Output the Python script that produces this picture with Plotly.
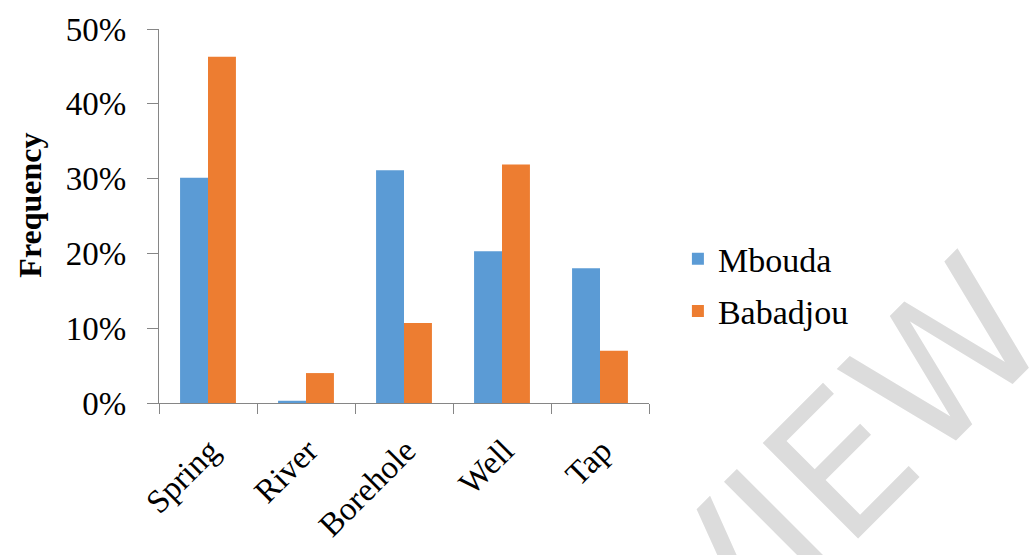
import plotly.graph_objects as go

categories = ["Spring", "River", "Borehole", "Well", "Tap"]
mbouda = [0.301, 0.003, 0.311, 0.203, 0.180]
babadjou = [0.463, 0.040, 0.107, 0.319, 0.070]
series_names = ["Mbouda", "Babadjou"]
y_tick_vals = [0, 0.1, 0.2, 0.3, 0.4, 0.5]
y_tick_text = ["0%", "10%", "20%", "30%", "40%", "50%"]

SERIF = "Liberation Serif, Times New Roman, serif"
AXIS_COLOR = "#868686"

fig = go.Figure()
fig.add_trace(go.Bar(x=categories, y=mbouda, name=series_names[0],
                     marker=dict(color="#5B9BD5", line=dict(width=0)),
                     legendgroup="a"))
fig.add_trace(go.Bar(x=categories, y=babadjou, name=series_names[1],
                     marker=dict(color="#ED7D31", line=dict(width=0)),
                     legendgroup="b"))

fig.update_layout(
    width=1033, height=555,
    margin=dict(l=159, r=384, t=27, b=149),
    paper_bgcolor="white", plot_bgcolor="white",
    barmode="group", bargap=0.43, bargroupgap=0,
    font=dict(family=SERIF, size=32, color="black"),
    showlegend=True,
    legend=dict(x=1.059, xanchor="left", y=0.462, yanchor="top",
                font=dict(family=SERIF, size=34, color="black"),
                traceorder="grouped", tracegroupgap=5,
                bgcolor="rgba(0,0,0,0)"),
    xaxis=dict(showline=True, linecolor=AXIS_COLOR, linewidth=1.3,
               ticks="outside", tickson="boundaries", ticklen=10,
               tickcolor=AXIS_COLOR, tickwidth=1.3, tickangle=-45,
               showgrid=False, zeroline=False,
               ticklabelstandoff=14, ticklabelshift=2,
               tickfont=dict(family=SERIF, size=33, color="black")),
    yaxis=dict(range=[0, 0.5], tickvals=y_tick_vals, ticktext=y_tick_text,
               showline=True, linecolor=AXIS_COLOR, linewidth=1.3,
               ticks="outside", ticklen=11, tickcolor=AXIS_COLOR, tickwidth=1.3,
               showgrid=False, zeroline=False, ticklabelstandoff=14,
               tickfont=dict(family=SERIF, size=33, color="black")),
    annotations=[
        dict(text="<b>Frequency</b>", xref="paper", yref="paper",
             x=(30 - 159) / 490, y=(406 - 206) / 379, textangle=-90,
             showarrow=False, xanchor="center", yanchor="middle",
             font=dict(family=SERIF, size=32, color="black")),
        dict(text="REVIEW", xref="paper", yref="paper",
             x=(755 - 159) / 490, y=(406 - 556) / 379, textangle=-45,
             showarrow=False, xanchor="center", yanchor="middle",
             font=dict(family="DejaVu Sans", size=185, color="#dcdcdc")),
    ],
)

fig.write_html("out.html")
